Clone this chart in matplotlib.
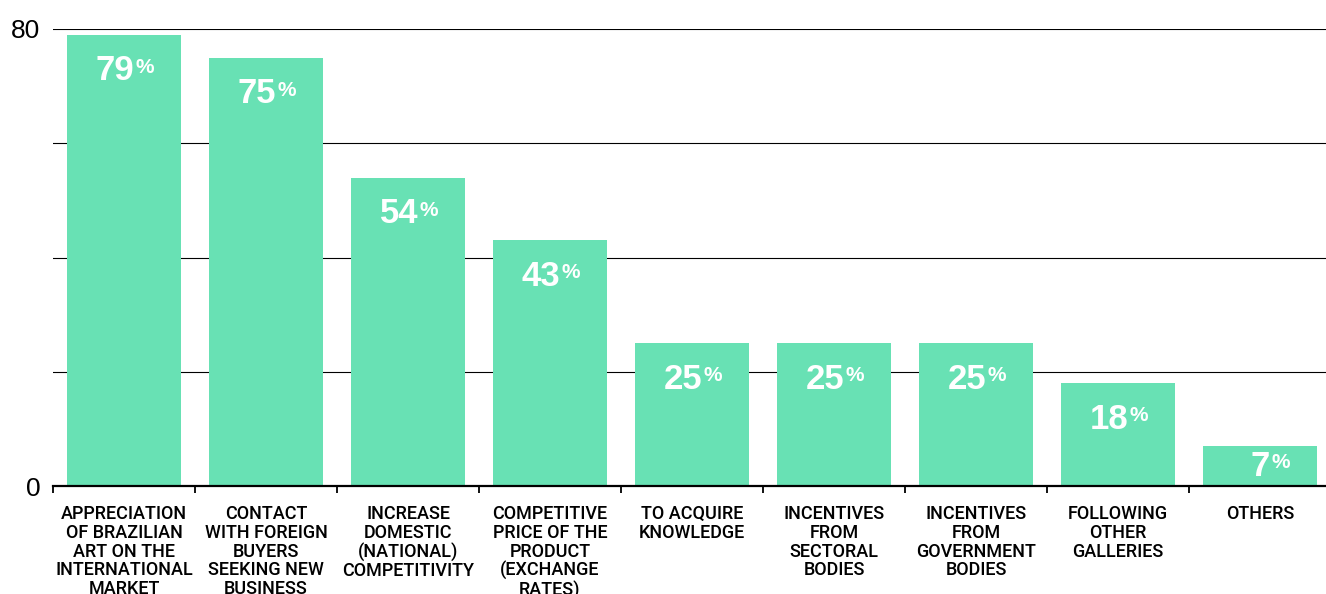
import matplotlib
matplotlib.use("Agg")
import matplotlib.pyplot as plt
from matplotlib.transforms import offset_copy

categories = [
    "APPRECIATION\nOF BRAZILIAN\nART ON THE\nINTERNATIONAL\nMARKET",
    "CONTACT\nWITH FOREIGN\nBUYERS\nSEEKING NEW\nBUSINESS",
    "INCREASE\nDOMESTIC\n(NATIONAL)\nCOMPETITIVITY",
    "COMPETITIVE\nPRICE OF THE\nPRODUCT\n(EXCHANGE\nRATES)",
    "TO ACQUIRE\nKNOWLEDGE",
    "INCENTIVES\nFROM\nSECTORAL\nBODIES",
    "INCENTIVES\nFROM\nGOVERNMENT\nBODIES",
    "FOLLOWING\nOTHER\nGALLERIES",
    "OTHERS",
]
values = [79, 75, 54, 43, 25, 25, 25, 18, 7]
ytick_labels = {0: "0", 80: "80"}

BAR_COLOR = "#68E1B4"
FONT = ["Liberation Sans", "DejaVu Sans"]
LABEL_FONT = ["Roboto", "Liberation Sans", "DejaVu Sans"]
plt.rcParams["font.family"] = FONT

W, H, DPI = 1326, 594, 100
fig = plt.figure(figsize=(W / DPI, H / DPI), dpi=DPI)
ax = fig.add_axes([53 / W, 108 / H, 1278 / W, 457 / H])

x = list(range(len(values)))
ax.bar(x, values, width=0.8, color=BAR_COLOR, zorder=3)

ax.set_xlim(-0.5, len(values) - 0.5)
ax.set_ylim(0, 80)

# horizontal rules every 20 units
for g in [20, 40, 60, 80]:
    ax.axhline(g, color="black", lw=0.8, zorder=1)

for side in ["left", "right", "top"]:
    ax.spines[side].set_visible(False)
ax.spines["bottom"].set_linewidth(1.6)
ax.spines["bottom"].set_zorder(4)

ax.set_yticks(list(ytick_labels.keys()))
ax.set_yticklabels(list(ytick_labels.values()), fontsize=19)
ax.tick_params(axis="y", length=0, pad=9)

# category boundaries carry the x ticks; names sit centred between them
bounds = [i - 0.5 for i in range(len(values))]
ax.set_xticks(bounds)
ax.set_xticklabels([""] * len(bounds))
ax.tick_params(axis="x", length=5, width=1.3, direction="out")
for i, name in enumerate(categories):
    ax.annotate(name, xy=(i, 0), xycoords="data", xytext=(0, -19),
                textcoords="offset pixels", ha="center", va="top",
                fontsize=13, linespacing=1.055, color="black",
                family=LABEL_FONT, fontweight="medium")

# value labels inside bars: number plus a raised percent sign
for i, v in enumerate(values):
    yc = max(v - 6.3, v / 2)
    num_t = offset_copy(ax.transData, fig=fig, x=10, y=0, units="dots")
    ax.text(i, yc, str(v), transform=num_t, ha="right", va="center",
            fontsize=25, fontweight="bold", color="white", zorder=5)
    pct_t = offset_copy(ax.transData, fig=fig, x=11, y=13, units="dots")
    ax.text(i, yc, "%", transform=pct_t, ha="left", va="top",
            fontsize=15, fontweight="bold", color="white", zorder=5)

fig.savefig("out.png", dpi=DPI)
